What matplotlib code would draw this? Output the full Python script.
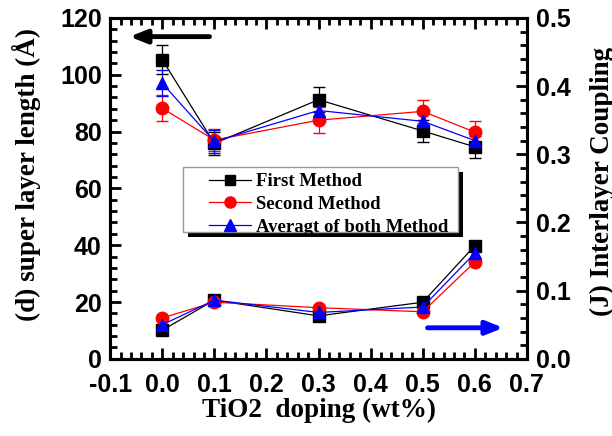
import matplotlib
matplotlib.use('Agg')
import matplotlib.pyplot as plt
from matplotlib.lines import Line2D
from matplotlib.patches import Rectangle
from matplotlib.ticker import MultipleLocator

# TiO2 doping (wt%)
doping = [0.0, 0.1, 0.3, 0.5, 0.6]

# super layer length d (Angstrom)
d_first = [105.3, 75.8, 91.2, 80.2, 74.6]
d_second = [88.2, 77.0, 84.0, 87.1, 79.8]
d_avg = [97.0, 76.5, 87.4, 83.6, 76.8]
d_first_err = [5.0, 4.0, 4.5, 4.0, 4.0]
d_second_err = [4.5, 4.0, 4.5, 4.0, 4.0]
d_avg_err = [4.5, 4.0, 4.0, 4.0, 4.0]

# interlayer coupling J
j_first = [0.042, 0.086, 0.063, 0.083, 0.166]
j_second = [0.060, 0.083, 0.075, 0.069, 0.142]
j_avg = [0.050, 0.086, 0.068, 0.076, 0.155]

labels = ['First Method', 'Second Method', 'Averagt of both Method']
x_ticks = [-0.1, 0.0, 0.1, 0.2, 0.3, 0.4, 0.5, 0.6, 0.7]
x_ticklabels = ['-0.1', '0.0', '0.1', '0.2', '0.3', '0.4', '0.5', '0.6', '0.7']

serif = 'Liberation Serif'
sans = 'Liberation Sans'

fig = plt.figure(figsize=(6.12, 4.36), dpi=100)
ax = fig.add_axes([0.18, 0.177, 0.681, 0.782])
ax2 = ax.twinx()

ms = 8
styles = [('black', 's', ms), ('red', 'o', ms + 1), ('blue', '^', ms + 1)]

for (c, m, s), d, e in zip(styles, [d_first, d_second, d_avg],
                           [d_first_err, d_second_err, d_avg_err]):
    ax.errorbar(doping, d, yerr=e, color=c, marker=m, ms=s, lw=0.9,
                capsize=4, elinewidth=0.9, zorder=3)

for (c, m, s), j in zip(styles, [j_first, j_second, j_avg]):
    ax2.plot(doping, j, color=c, marker=m, ms=s, lw=0.9)

ax.set_xlim(-0.1, 0.7)
ax.set_ylim(0, 120)
ax2.set_ylim(0, 0.5)

ax.set_xticks(x_ticks)
ax.set_xticklabels(x_ticklabels)
ax.xaxis.set_minor_locator(MultipleLocator(0.02))
ax.yaxis.set_major_locator(MultipleLocator(20))
ax.yaxis.set_minor_locator(MultipleLocator(4))
ax2.yaxis.set_major_locator(MultipleLocator(0.1))
ax2.yaxis.set_minor_locator(MultipleLocator(0.02))

ax.tick_params(which='both', direction='in', top=True, right=False, width=2)
ax.tick_params(which='major', length=8)
ax.tick_params(which='minor', length=5)
ax.tick_params(axis='x', which='major', pad=10)
ax.tick_params(axis='y', which='major', pad=6)
ax2.tick_params(which='both', direction='in', width=2)
ax2.tick_params(which='major', length=8, pad=6.5)
ax2.tick_params(which='minor', length=5)

for a in (ax, ax2):
    for sp in a.spines.values():
        sp.set_linewidth(2.2)
    for lab in a.get_xticklabels() + a.get_yticklabels():
        lab.set_fontfamily(sans)
        lab.set_fontweight('bold')
        lab.set_fontsize(18)

ax.set_xlabel('TiO2  doping (wt%)', fontfamily=serif, fontweight='bold', fontsize=19.5)
ax.set_ylabel('(d) super layer length (Å)', fontfamily=serif, fontweight='bold', fontsize=19.5)
ax2.set_ylabel('(J) Interlayer Coupling', fontfamily=serif, fontweight='bold', fontsize=19.5)
ax.yaxis.set_label_coords(-0.165, 0.54)
ax2.yaxis.set_label_coords(1.15, 0.52)
ax.xaxis.set_label_coords(0.5, -0.115)

# legend box with a solid black shadow, drawn by hand
bx, by, bw, bh = 0.175, 0.372, 0.66, 0.191
ax.add_patch(Rectangle((bx + 0.012, by - 0.015), bw, bh, transform=ax.transAxes,
                       facecolor='black', edgecolor='none', zorder=4))
ax.add_patch(Rectangle((bx, by), bw, bh, transform=ax.transAxes,
                       facecolor='white', edgecolor='#999999', lw=1, zorder=4.1))

handles = [Line2D([], [], color=c, marker=m, ms=s - 1, lw=0.9) for c, m, s in styles]
leg = ax.legend(handles, labels, loc='upper left', bbox_to_anchor=(0.238, 0.545),
                prop={'family': serif, 'weight': 'bold', 'size': 13.5},
                frameon=False, borderpad=0, borderaxespad=0, handlelength=2.2,
                labelspacing=0.3, handletextpad=0.3)
leg.set_zorder(5)

ax.annotate('', xy=(0.04, 0.945), xytext=(0.245, 0.945), xycoords='axes fraction',
            arrowprops=dict(arrowstyle='-|>,head_length=1.0,head_width=0.4',
                            color='black', lw=3.5))
ax.annotate('', xy=(0.95, 0.091), xytext=(0.755, 0.091), xycoords='axes fraction',
            arrowprops=dict(arrowstyle='-|>,head_length=1.0,head_width=0.4',
                            color='blue', lw=3.5))

fig.savefig('out.png', dpi=100)
